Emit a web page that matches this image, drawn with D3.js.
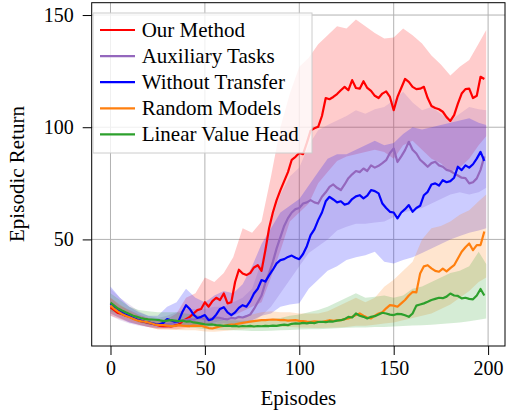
<!DOCTYPE html>
<html>
<head>
<meta charset="utf-8">
<script src="https://cdn.jsdelivr.net/npm/d3@7/dist/d3.min.js"></script>
<style>
  body { margin: 0; background: #fff; }
  svg { display: block; }
</style>
</head>
<body>
<svg id="chart" width="508" height="415"></svg>
<script>
// ---- Data ----
const seriesNames = ["Our Method", "Auxiliary Tasks", "Without Transfer", "Random Models", "Linear Value Head"];
const seriesColors = ["#ff0000", "#9467bd", "#0000ff", "#ff7f0e", "#2ca02c"];
const xTicks = [0, 50, 100, 150, 200];
const yTicks = [50, 100, 150];

// mean curves sampled every 2 episodes (0..198)
const lineEpisodes = d3.range(0, 200, 2);

const ourMethod = [19.7,18.5,17.2,16.8,16,15.6,14.8,14.2,13.6,13.2,12.8,12.4,12,11.5,11.3,11.5,11.2,11.6,12,13.5,
  14.5,15.5,17,18.5,19,22,20,22.5,24,23,25.9,21.5,22,31,36.5,34.8,34.1,35,37.5,38.5,
  36,45,55,62,67.5,72,76,80,85.5,86.8,88.5,88,93,98.5,99.5,100.2,105,113,112.5,113.5,
  114.8,116.5,118,116.5,121,117.5,117.2,120.5,117.5,116.2,114,113,115,116,113.5,107.6,113.5,117.5,121.5,120.2,
  118,117,117.2,118,113,109.5,108.6,108,106.9,104.5,102.8,105.4,110.5,115,117,117.2,113,114,122.5,121.5];

const auxTasks = [21,20,18.8,17.5,16.6,15.8,15,14.3,13.8,13.3,13,12.6,12.2,12,12,12.3,12.5,12.8,13.2,13.8,
  14,14.5,14.2,14.8,15,14.5,14.2,14.8,15.2,15,14.6,14.4,15,14.8,15.5,15.2,15.8,16.5,19,22,
  25,30.5,35,40,46,51,56,59.5,62,63.5,64,66,66.5,67.5,66.5,66,69,71,73.4,74.5,
  73,72,74.5,77.3,79,80.5,80,81.6,80.5,83,82,82.8,84,85.3,88.5,90.5,84.5,87,89.8,93.5,
  90,88.3,85.5,84,82.4,84,84.6,83,82.4,81,80.5,79.4,78.5,77.5,77.3,75,75.5,77.2,81,87];

const withoutTransfer = [21.5,20,18.5,17.5,16.5,15.8,15,14.3,13.8,13.3,13,12.6,12.3,12.2,12.8,14.5,14,13.3,13.5,17.5,
  20.7,19,16.5,15,15.5,16.3,14,14.5,16.5,19,19.8,17.5,16.3,17.5,19.5,20.7,20,22.5,25.9,28,
  31.9,31.2,34,36.5,39.3,40.8,41.2,42.2,42.8,41.8,41.2,43.5,47,51.9,54.5,58.6,62,67,69,67.8,
  66.5,67,65.5,66,68,69.2,69.7,68.3,69.5,72,71.5,70.5,66,64,62.3,62,59.4,62,63.5,65.3,
  62.3,64,65,69.7,71.2,74.5,75,74,76.4,75.5,76,77.5,82.4,80.9,83,82,83.5,86,89,85];

const randomModels = [20.5,19,17.8,16.8,16,15.3,14.6,14,13.6,13.3,13,12.5,12,11.8,11.8,11.6,11.4,11.5,11.8,11.6,
  11.5,11.4,11.6,11.5,11.5,11,10.5,10.3,10.8,11.2,11.5,11.8,12,12.2,12.5,12.8,13.1,13.4,13.6,13.8,
  14,14,14.2,14.3,14.2,14,14.1,13.8,13.9,14,13.7,13.6,13.4,13.3,13.5,13.4,13.2,13.6,14,13.7,
  13.9,14,14.5,14.8,15.5,16.3,17,16,15.2,14.8,16,17,17.5,19.3,20.7,20.5,20,21.5,23,25,
  26.6,26.4,34.8,38,38.5,37.1,36,35.6,37,35.8,37.2,38.5,41.5,44.5,46.5,48.2,45.2,47.5,47.5,53.5];

const linearValueHead = [21.8,20.5,19.2,18.3,17.5,16.8,16,15.5,15,14.6,14.4,14.3,14.2,14,13.6,13.8,14,13.8,13.6,13.8,
  13.4,13.5,13,12.8,12.5,12.2,12,12.1,11.8,11.7,11.5,11.6,11.4,11.5,11.2,11.4,11.3,11.5,11.2,11.4,
  11.3,11.5,11.4,11.6,11.5,11.8,12,11.8,12.4,12.6,12.5,12.8,12.6,12.9,12.7,13.2,13.3,13.1,13.5,13.4,
  13.8,14,14.5,15.5,15.2,17,16,15.5,14.8,15.5,15.8,16.5,17.3,17,16.5,16.3,16.8,16.7,16.2,15.5,
  17,20.5,21,21.5,22.2,23,23.5,24,23.8,24.5,25.9,25,24.8,23.7,24,23.5,23.3,25,27.9,25];

// shaded bands sampled every 5 episodes (0..195, 199)
const bandEpisodes = [0,5,10,15,20,25,30,35,40,45,50,55,60,65,70,75,80,85,90,95,100,105,110,115,120,125,130,135,140,145,150,155,160,165,170,175,180,185,190,195,199];

const ourMethodLo = [16,14.5,13,12,11,10,10,10,10.5,11,12,13,14,16,18,20,22,33,45,58,62,66,75,80,85,87,88,89,90,89,86,92,94,90,86,84,80,82,86,92,96];
const ourMethodHi = [24,20.5,18.5,16.5,15,14,14.5,17,24,26,33,31,35,42,55,53,58,78,100,115,127,131,137,141,145,144,148,145,142,139.6,140,144,141,137.3,132,128,123,127,130,137.3,143.3];

const auxTasksLo = [16,14,12.5,11.5,11,10.5,10.5,11,11,11,11,11.5,11.5,12,12,13,16,20,26,32,38,44,47,50,54,55.6,57,57,57.5,58,60,62,63,64,66,68,70,71,70,71,73];
const auxTasksHi = [28,24,21,18,16,15,16,17.5,19,19,19,20,20,22,24,28,40,58,70,78,82,92,98.7,101,103,105,107.6,106,108,109,112,115.8,111,107.6,109,106,103,106,109,108,107.6];

const withoutTransferLo = [17,15,13,12,11,10.5,10.5,11,12,11.5,11.5,12,12.5,12,13,14,16,17,20,21,21.5,28,32,36,38,40.8,42,43,44.5,40,39.3,40.8,42,44,46,48,50,51.5,53,54,55];
const withoutTransferHi = [29,24,20,17.5,16,16,20,22,28,24,22,25,27,26,30,38,48,55,62,65,68,74,80,86,88,88,90,92,94,92,93,97,100,99,100,101,102,103,104,102,101];

const randomModelsLo = [17,15,13.5,12,11,10,9.8,9.6,9.5,9.5,9,8.8,9.2,9.6,10,10.5,11,11,11,11,10.8,10.6,10.5,10.6,10.8,11,11.5,11.5,12,12.5,13,14,15,16,17,19,21,24,27,31,33];
const randomModelsHi = [24,21,18,16,15,14,13.5,13.5,13.5,13.5,13,12.8,14,14.5,15.5,16.5,17.5,18,17.5,17.5,17,17,17,18,20,22,24,22,24,28.9,32,36,40,50,55,56,58,61,63,67,70];

const linearValueHeadLo = [18,16.5,15,13,12,11.5,11.5,11.5,11,10.5,10,9.8,9.6,9.5,9.4,9.2,9.2,9.3,9.5,9.6,9.8,10,10,10.2,10.4,10.6,10.8,10.8,11,11,11.2,11.4,11.6,11.8,12,12.3,12.6,13,13.5,14.2,14.8];
const linearValueHeadHi = [26,23,20,18.5,18,17.5,17.5,17.5,17,16.5,15.5,15,14,14,13.8,14,14.2,14.5,15,16,16.5,17.5,18.5,20,22,24,26,24,24.5,25,24,25,28,29,31,33,35,36,38,44.5,39];

const means = [ourMethod, auxTasks, withoutTransfer, randomModels, linearValueHead];
const lows  = [ourMethodLo, auxTasksLo, withoutTransferLo, randomModelsLo, linearValueHeadLo];
const highs = [ourMethodHi, auxTasksHi, withoutTransferHi, randomModelsHi, linearValueHeadHi];

const FONT = "'Liberation Serif', Tinos, 'DejaVu Serif', serif";

// ---- Layout ----
const svg = d3.select("#chart");
const L = 91.7, R = 505, T = 2.7, B = 346;
const x = d3.scaleLinear().domain([-9.95, 208.95]).range([L, R]);
const y = d3.scaleLinear().domain([2.5, 155.5]).range([B, T]);

// grid
const grid = svg.append("g");
grid.selectAll("line.gx").data(xTicks).join("line")
  .attr("x1", d => x(d)).attr("x2", d => x(d)).attr("y1", T).attr("y2", B)
  .attr("stroke", "#b3b3b3").attr("stroke-width", 1);
grid.selectAll("line.gy").data(yTicks).join("line")
  .attr("x1", L).attr("x2", R).attr("y1", d => y(d)).attr("y2", d => y(d))
  .attr("stroke", "#b3b3b3").attr("stroke-width", 1);

// clip
svg.append("clipPath").attr("id", "clip").append("rect")
  .attr("x", L).attr("y", T).attr("width", R - L).attr("height", B - T);
const plot = svg.append("g").attr("clip-path", "url(#clip)");

// bands
const area = d3.area().x(d => x(d.e)).y0(d => y(d.lo)).y1(d => y(d.hi));
seriesNames.forEach((name, i) => {
  const data = bandEpisodes.map((e, k) => ({ e, lo: lows[i][k], hi: highs[i][k] }));
  plot.append("path").datum(data).attr("d", area)
    .attr("fill", seriesColors[i]).attr("fill-opacity", 0.2).attr("stroke", "none");
});

// lines
const line = d3.line().x(d => x(d.e)).y(d => y(d.v));
seriesNames.forEach((name, i) => {
  const data = lineEpisodes.map((e, k) => ({ e, v: means[i][k] }));
  plot.append("path").datum(data).attr("d", line)
    .attr("fill", "none").attr("stroke", seriesColors[i])
    .attr("stroke-width", 2.2).attr("stroke-linejoin", "round");
});

// frame
svg.append("rect").attr("x", L).attr("y", T).attr("width", R - L).attr("height", B - T)
  .attr("fill", "none").attr("stroke", "#000").attr("stroke-width", 1);

// axes
const xAxis = d3.axisBottom(x).tickValues(xTicks).tickSize(9).tickPadding(6);
const gx = svg.append("g").attr("transform", `translate(0,${B})`).call(xAxis)
  .attr("font-family", FONT).attr("font-size", 20);
gx.select(".domain").remove();
gx.selectAll("text").attr("font-family", FONT).attr("font-size", 20).attr("fill", "#000");

const yAxis = d3.axisLeft(y).tickValues(yTicks).tickSize(9).tickPadding(9);
const gy = svg.append("g").attr("transform", `translate(${L},0)`).call(yAxis)
  .attr("font-family", FONT).attr("font-size", 20);
gy.select(".domain").remove();
gy.selectAll("text").attr("font-family", FONT).attr("font-size", 20).attr("fill", "#000");

// axis labels
svg.append("text").attr("x", (L + R) / 2).attr("y", 405).attr("text-anchor", "middle")
  .attr("font-family", FONT).attr("font-size", 21).text("Episodes");
svg.append("text").attr("transform", "translate(23.5,174) rotate(-90)").attr("text-anchor", "middle")
  .attr("font-family", FONT).attr("font-size", 21).text("Episodic Return");

// legend
const lg = svg.append("g");
lg.append("rect").attr("x", 93).attr("y", 13).attr("width", 219).attr("height", 140)
  .attr("fill", "#fff").attr("fill-opacity", 0.8).attr("stroke", "#cccccc").attr("stroke-width", 1);
seriesNames.forEach((name, i) => {
  const cy = 30 + i * 26.1;
  lg.append("line").attr("x1", 100).attr("x2", 135).attr("y1", cy).attr("y2", cy)
    .attr("stroke", seriesColors[i]).attr("stroke-width", 2.2);
  lg.append("text").attr("x", 141.7).attr("y", cy + 6.8)
    .attr("font-family", FONT).attr("font-size", 21).text(name);
});
</script>
</body>
</html>
